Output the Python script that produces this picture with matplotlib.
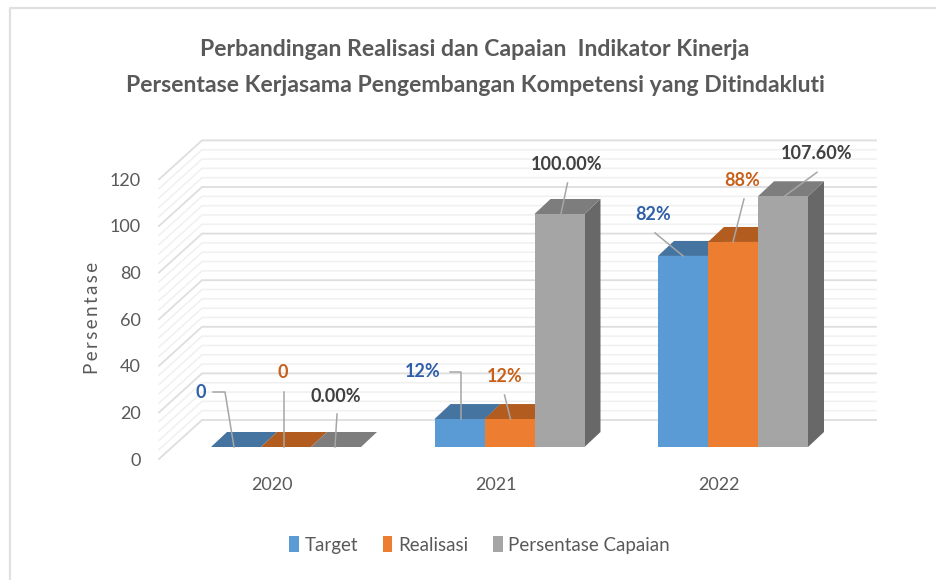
import matplotlib
matplotlib.use('Agg')
import matplotlib.pyplot as plt
from matplotlib.lines import Line2D
from matplotlib.patches import Polygon

#############################################################################
# DATA
#############################################################################
years = ['2020', '2021', '2022']
series_names = ['Target', 'Realisasi', 'Persentase Capaian']
target = [0, 12, 82]
realisasi = [0, 12, 88]
capaian = [0, 100, 107.6]
target_labels = ['0', '12%', '82%']
realisasi_labels = ['0', '12%', '88%']
capaian_labels = ['0.00%', '100.00%', '107.60%']
y_ticks = [0, 20, 40, 60, 80, 100, 120]

#############################################################################
# STYLE / LAYOUT (pixels)
#############################################################################
W, H = 936, 580
plt.rcParams['font.family'] = ['Lato', 'DejaVu Sans']

front = ['#5b9bd5', '#ed7d31', '#a5a5a5']
top = ['#44749f', '#b35c20', '#7d7d7d']
side = ['#44749f', '#b35c20', '#686868']
label_cols = ['#2f5fa8', '#c8601a', '#404040']

PX_X = 223.5    # px per category
PX_Y = 2.33     # px per value unit
AX_L, AX_R, AX_B, AX_T = 159, 876, 459, 140  # axes box in px from top left
CAT0 = 272      # px position of first category label

BAR_W = 50
BAR_SHIFT_X, BAR_SHIFT_Y = 14, 12   # where the bars stand on the floor
BAR_DX, BAR_DY = 16, 15             # depth of a bar
WALL_DX, WALL_DY = 43, 39           # depth of the floor

# label centre and leader points, px relative to the top-front centre of the bar
label_layout = [
    [((-35, -55), [(-23, -55), (-11, -55), (-2, 0)]),
     ((-3, -74), [(-2, -55), (-2, 0)]),
     ((0, -51), [(1, -33), (-1, 0)])],
    [((-37, -48), [(-10, -47), (1, -47), (1, 0)]),
     ((-5, -43), [(-5, -24), (1, 0)]),
     ((7, -49), [(8, -31), (1, 2)])],
    [((-30, -41), [(-28, -23), (0, 0)]),
     ((9, -61), [(11, -43), (0, 0)]),
     ((34, -43), [(34, -24), (0, 1)])],
]

fig = plt.figure(figsize=(W / 100, H / 100), dpi=100, facecolor='white')
ax = fig.add_axes([AX_L / W, 1 - AX_B / H, (AX_R - AX_L) / W, (AX_B - AX_T) / H])
ax.set_xlim((AX_L - CAT0) / PX_X, (AX_R - CAT0) / PX_X)
ax.set_ylim(0, (AX_B - AX_T) / PX_Y)
ax.patch.set_alpha(0)
for s in ax.spines.values():
    s.set_visible(False)

wall_x = WALL_DX / PX_X
wall_y = WALL_DY / PX_Y
x_left = ax.get_xlim()[0]
x_right = ax.get_xlim()[1]

# gridlines: side wall and back wall, major every 20, minor every 4
for v in range(0, 121, 4):
    major = v % 20 == 0
    col = '#dedede' if major else '#f0f0f0'
    lw = 1.3 if major else 1.1
    ax.plot([x_left, x_left + wall_x, x_right], [v, v + wall_y, v + wall_y],
            color=col, lw=lw, zorder=2 if major else 1, clip_on=False,
            solid_joinstyle='miter')

# bars
bar_sets = [target, realisasi, capaian]
label_sets = [target_labels, realisasi_labels, capaian_labels]
bw = BAR_W / PX_X
dx = BAR_DX / PX_X
dy = BAR_DY / PX_Y
base = BAR_SHIFT_Y / PX_Y
legend_handles = []
for i, year in enumerate(years):
    cx = i + BAR_SHIFT_X / PX_X
    for j, vals in enumerate(bar_sets):
        x0 = cx + (j - 1.5) * bw
        x1 = x0 + bw
        y1 = vals[i] + base
        z = 5 + j
        ax.add_patch(Polygon([(x1, base), (x1 + dx, base + dy), (x1 + dx, y1 + dy), (x1, y1)],
                             closed=True, fc=side[j], ec='none', zorder=z))
        ax.add_patch(Polygon([(x0, y1), (x1, y1), (x1 + dx, y1 + dy), (x0 + dx, y1 + dy)],
                             closed=True, fc=top[j], ec='none', zorder=z))
        if vals[i] > 0:
            bar = ax.bar(x0, vals[i], bw, bottom=base, align='edge', color=front[j],
                         zorder=z, label=series_names[j] if i == 1 else None)
            if i == 1:
                legend_handles.append(bar)

        # data label and its leader line
        ax_x = x0 + bw / 2
        (tx, ty), leader = label_layout[i][j]
        ax.plot([ax_x + p[0] / PX_X for p in leader], [y1 - p[1] / PX_Y for p in leader],
                color='#a6a6a6', lw=1.1, zorder=10, clip_on=False)
        ax.text(ax_x + tx / PX_X, y1 - ty / PX_Y, label_sets[j][i], color=label_cols[j],
                fontsize=13, fontweight='bold', ha='center', va='center', zorder=11)

# axes text
ax.set_xticks(range(len(years)))
ax.set_xticklabels(years)
ax.set_yticks(y_ticks)
ax.tick_params(axis='both', length=0, labelcolor='#595959', labelsize=13)
ax.tick_params(axis='x', pad=13)
ax.tick_params(axis='y', pad=13)
plt.setp(ax.get_yticklabels(), va='center_baseline')
fig.text(92 / W, 1 - 318 / H, '\u2009'.join('Persentase'), rotation=90, ha='center', va='center',
         color='#595959', fontsize=13.5)

# title
fig.text(475 / W, 1 - 50 / H, 'Perbandingan Realisasi dan Capaian  Indikator Kinerja',
         ha='center', va='center', color='#595959', fontsize=16.6, fontweight='bold')
fig.text(475 / W, 1 - 86 / H, 'Persentase Kerjasama Pengembangan Kompetensi yang Ditindakluti',
         ha='center', va='center', color='#595959', fontsize=16.6, fontweight='bold')

# legend
leg = ax.legend(legend_handles, series_names, ncol=3, loc='center', frameon=False,
                bbox_to_anchor=(479.5 / W, 1 - 545 / H), bbox_transform=fig.transFigure,
                fontsize=13.5, labelcolor='#595959', handlelength=0.53, handleheight=0.95,
                handletextpad=0.3, columnspacing=1.3)

# chart border, left and top only
fig.add_artist(Line2D([10 / W, 10 / W, 1], [0, 1 - 8 / H, 1 - 8 / H], color='#e0e0e0', lw=1.6))

fig.savefig('out.png', dpi=100)
